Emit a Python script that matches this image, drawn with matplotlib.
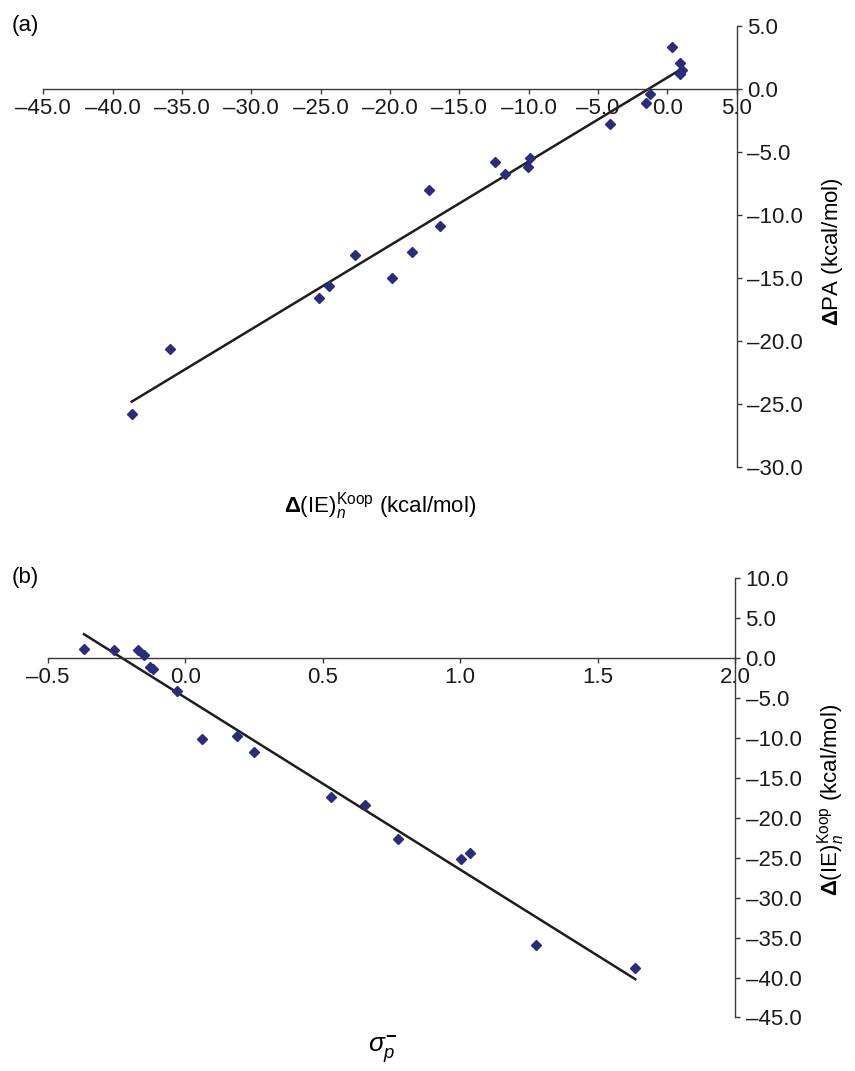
import matplotlib
matplotlib.use("Agg")
import matplotlib.pyplot as plt
import numpy as np

plt.rcParams['font.family'] = ['Liberation Sans', 'DejaVu Sans']
plt.rcParams['mathtext.fontset'] = 'custom'
plt.rcParams['mathtext.rm'] = 'Liberation Sans'
plt.rcParams['mathtext.it'] = 'Liberation Sans:italic'
plt.rcParams['mathtext.bf'] = 'Liberation Sans:bold'

# panel (a): delta(IE)n Koop vs delta PA
ie_a = [0.3, 0.93, 1.03, 0.93, -1.26, -1.55, -4.14, -12.41, -11.74, -9.91,
        -10.08, -17.19, -16.4, -22.53, -18.44, -19.84, -24.42, -25.12, -35.87, -38.63]
pa_a = [3.29, 2.05, 1.46, 1.19, -0.45, -1.14, -2.79, -5.84, -6.79, -5.52,
        -6.24, -8.04, -10.9, -13.22, -12.95, -15.07, -15.66, -16.61, -20.65, -25.82]

# panel (b): sigma_p- vs delta(IE)n Koop
sig_b = [-0.368, -0.258, -0.172, -0.149, -0.128, -0.118, -0.028, 0.062, 0.189,
         0.252, 0.531, 0.653, 0.774, 1.002, 1.034, 1.275, 1.637]
ie_b = [1.15, 1.03, 1.03, 0.35, -1.15, -1.44, -4.16, -10.09, -9.8,
        -11.72, -17.36, -18.36, -22.62, -25.21, -24.46, -35.94, -38.82]

mk = '#2b2c7c'
fs = 16


def lab(v):
    return ('%.1f' % v).replace('-', '\u2013')


def setup(ax, xlim, ylim, xt, yt):
    ax.set_xlim(*xlim)
    ax.set_ylim(*ylim)
    ax.spines['left'].set_visible(False)
    ax.spines['top'].set_visible(False)
    ax.spines['bottom'].set_position(('data', 0))
    for s in ('bottom', 'right'):
        ax.spines[s].set_color('#3a3a3a')
        ax.spines[s].set_linewidth(1.0)
    ax.yaxis.tick_right()
    ax.set_xticks(xt)
    ax.set_yticks(yt)
    ax.set_xticklabels([lab(v) for v in xt])
    ax.set_yticklabels([lab(v) for v in yt])
    ax.tick_params(direction='out', length=3.5, width=1.0, color='#3a3a3a',
                   labelsize=fs, labelcolor='#1a1a1a')
    ax.tick_params(axis='x', pad=3)
    ax.tick_params(axis='y', pad=4)


def draw(ax, x, y):
    x = np.array(x)
    y = np.array(y)
    k, b = np.polyfit(x, y, 1)
    xx = np.array([x.min(), x.max()])
    ax.plot(xx, k * xx + b, color='#1e1e1e', lw=1.8, zorder=2)
    ax.plot(x, y, 'D', color=mk, ms=5.6, mec=mk, zorder=3, clip_on=False)


fig = plt.figure(figsize=(8.55, 10.71), dpi=100)

ax1 = fig.add_axes([0.0507, 0.5644, 0.811, 0.4116])
draw(ax1, ie_a, pa_a)
setup(ax1, (-45, 5), (-30, 5), np.arange(-45, 6, 5), np.arange(-30, 6, 5))

ax2 = fig.add_axes([0.0558, 0.05, 0.804, 0.4103])
draw(ax2, sig_b, ie_b)
setup(ax2, (-0.5, 2.0), (-45, 10), np.arange(-0.5, 2.01, 0.5), np.arange(-45, 11, 5))

fig.text(12 / 855, 1 - 25 / 1071, '(a)', fontsize=fs, ha='left', va='center')
fig.text(12 / 855, 1 - 578 / 1071, '(b)', fontsize=fs, ha='left', va='center')

lab_ie = r'$\mathbf{\Delta}$(IE)$_{\mathit{n}}^{\mathrm{Koop}}$ (kcal/mol)'
fig.text(380 / 855, 1 - 507 / 1071, lab_ie, fontsize=fs, ha='center', va='center')
fig.text(832 / 855, 1 - 252 / 1071, r'$\mathbf{\Delta}$PA (kcal/mol)', fontsize=fs,
         ha='center', va='center', rotation=90)
fig.text(832 / 855, 1 - 800 / 1071, lab_ie, fontsize=fs, ha='center', va='center',
         rotation=90)
fig.text(383 / 855, 1 - 1050 / 1071, r'$\mathit{\sigma}_{\mathit{p}}^{\mathbf{-}}$',
         fontsize=fs + 3, ha='center', va='center')

fig.savefig('out.png', dpi=100)
